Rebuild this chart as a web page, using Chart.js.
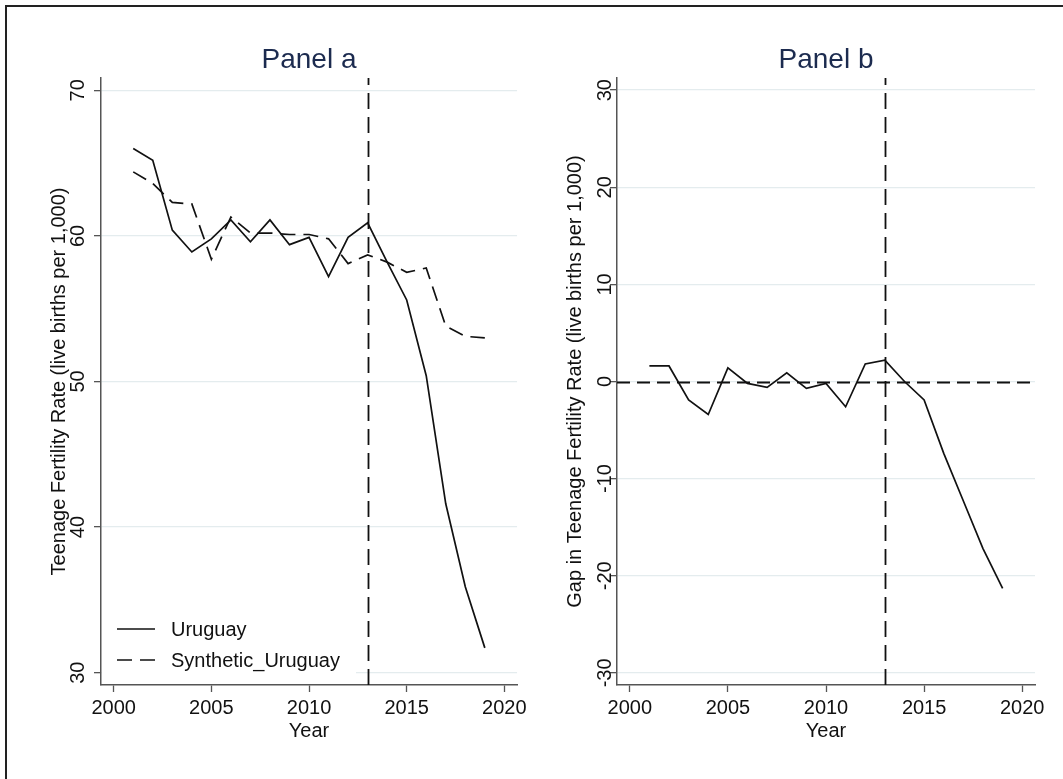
<!DOCTYPE html>
<html>
<head>
<meta charset="utf-8">
<script src="https://cdn.jsdelivr.net/npm/chart.js@4.4.1/dist/chart.umd.min.js"></script>
<style>
  html, body { margin: 0; padding: 0; background: #fff; overflow: hidden; }
  #page { position: relative; width: 1063px; height: 779px; overflow: hidden; }
  #frame { position: absolute; left: 5px; top: 5px; width: 1080px; height: 800px;
           border-left: 2px solid #222; border-top: 2px solid #222; }
  #wrapA { position: absolute; left: 0; top: 0; width: 531px; height: 779px; }
  #wrapB { position: absolute; left: 531px; top: 0; width: 532px; height: 779px; }
  canvas { display: block; }
</style>
</head>
<body>
<div id="page">
  <div id="frame"></div>
  <div id="wrapA"><canvas id="chartA" width="531" height="779"></canvas></div>
  <div id="wrapB"><canvas id="chartB" width="532" height="779"></canvas></div>
</div>
<script>
// Teenage fertility rate, Uruguay vs. synthetic control (live births per 1,000)
const years = [2001, 2002, 2003, 2004, 2005, 2006, 2007, 2008, 2009, 2010,
               2011, 2012, 2013, 2014, 2015, 2016, 2017, 2018, 2019];
const uruguay = [66.0, 65.2, 60.4, 58.9, 59.8, 61.1, 59.6, 61.1, 59.4, 59.9,
                 57.2, 59.9, 60.9, 58.2, 55.6, 50.4, 41.6, 35.9, 31.7];
const syntheticUruguay = [64.4, 63.6, 62.3, 62.2, 58.4, 61.3, 60.2, 60.2, 60.1, 60.1,
                          59.8, 58.1, 58.7, 58.2, 57.5, 57.8, 53.8, 53.1, 53.0];
// Gap between Uruguay and its synthetic control
const gapValues = [1.6, 1.6, -1.9, -3.4, 1.4, -0.2, -0.6, 0.9, -0.7, -0.2,
                   -2.6, 1.8, 2.2, 0.0, -1.9, -7.4, -12.3, -17.2, -21.3];

const xTicks = [2000, 2005, 2010, 2015, 2020];
const yTicksA = [30, 40, 50, 60, 70];
const yTicksB = [-30, -20, -10, 0, 10, 20, 30];
const interventionYear = 2013;
const gapBaseline = 0;

const FONT = '"Liberation Sans", Arial, Helvetica, sans-serif';
const INK = '#111111';
const AXIS = '#555555';
const GRID = '#e4ecee';

const toPoints = (vals) => years.map((yr, i) => ({ x: yr, y: vals[i] }));

// Panel title above the plot area
const panelTitle = {
  id: 'panelTitle',
  afterDraw(chart, args, opts) {
    const { ctx, chartArea } = chart;
    ctx.save();
    ctx.font = '28px ' + FONT;
    ctx.fillStyle = '#1c2b4f';
    ctx.textAlign = 'center';
    ctx.textBaseline = 'alphabetic';
    ctx.fillText(opts.text, (chartArea.left + chartArea.right) / 2, 68);
    ctx.restore();
  }
};

// Y tick labels written vertically, as in Stata graphs
const verticalYTicks = {
  id: 'verticalYTicks',
  afterDraw(chart, args, opts) {
    const { ctx } = chart;
    const y = chart.scales.y;
    ctx.save();
    ctx.font = '20px ' + FONT;
    ctx.fillStyle = INK;
    ctx.textAlign = 'center';
    ctx.textBaseline = 'middle';
    y.ticks.forEach(t => {
      const py = y.getPixelForValue(t.value);
      ctx.save();
      ctx.translate(y.right - opts.offset, py);
      ctx.rotate(-Math.PI / 2);
      ctx.fillText(String(t.value), 0, 0);
      ctx.restore();
    });
    ctx.restore();
  }
};

// Dashed reference lines: intervention year and (optionally) zero gap
const referenceLines = {
  id: 'referenceLines',
  afterDatasetsDraw(chart, args, opts) {
    const { ctx, chartArea: { top, bottom, left, right }, scales: { x, y } } = chart;
    ctx.save();
    ctx.strokeStyle = INK;
    ctx.lineWidth = 1.8;
    if (opts.xValue !== undefined) {
      const px = Math.round(x.getPixelForValue(opts.xValue)) + 0.5;
      ctx.setLineDash([16, 8]);
      ctx.beginPath();
      ctx.moveTo(px, bottom);
      ctx.lineTo(px, top);
      ctx.stroke();
    }
    if (opts.yValue !== undefined) {
      const py = Math.round(y.getPixelForValue(opts.yValue)) + 0.5;
      ctx.setLineDash([13, 7]);
      ctx.beginPath();
      ctx.moveTo(left, py);
      ctx.lineTo(right, py);
      ctx.stroke();
    }
    ctx.restore();
  }
};

// Legend placed inside the plot area, lower left, on a white box
const insideLegend = {
  id: 'insideLegend',
  beforeDatasetsDraw(chart, args, opts) {
    if (!opts.display) return;
    const { ctx, chartArea } = chart;
    ctx.save();
    ctx.fillStyle = '#ffffff';
    ctx.fillRect(chartArea.left + 1, chartArea.bottom - 86, 254, 85);
    ctx.restore();
  },
  afterDatasetsDraw(chart, args, opts) {
    if (!opts.display) return;
    const { ctx, chartArea } = chart;
    ctx.save();
    ctx.font = '20px ' + FONT;
    ctx.textAlign = 'left';
    ctx.textBaseline = 'middle';
    chart.data.datasets.forEach((ds, i) => {
      const rowY = chartArea.bottom - 56 + i * 31;
      const x0 = chartArea.left + 16;
      ctx.strokeStyle = ds.borderColor;
      ctx.lineWidth = ds.borderWidth;
      ctx.setLineDash(ds.borderDash || []);
      ctx.beginPath();
      ctx.moveTo(x0, rowY);
      ctx.lineTo(x0 + 38, rowY);
      ctx.stroke();
      ctx.fillStyle = INK;
      ctx.fillText(ds.label, x0 + 54, rowY + 1);
    });
    ctx.restore();
  }
};

function xScale() {
  return {
    type: 'linear',
    min: 1999.35,
    max: 2020.65,
    afterBuildTicks: s => { s.ticks = xTicks.map(v => ({ value: v })); },
    afterFit: s => { s.height = 64; },
    ticks: { color: INK, font: { family: FONT, size: 20 }, padding: 4, maxRotation: 0,
             callback: v => String(v) },
    grid: { drawOnChartArea: false, drawTicks: true, tickLength: 7, tickColor: AXIS, tickWidth: 1.3 },
    border: { color: AXIS, width: 1.5 },
    title: { display: true, text: 'Year', color: INK, font: { family: FONT, size: 20 },
             padding: { top: 0, bottom: 6 } }
  };
}

function yScale(min, max, ticks, title) {
  return {
    type: 'linear',
    min: min,
    max: max,
    afterBuildTicks: s => { s.ticks = ticks.map(v => ({ value: v })); },
    afterFit: s => { s.width = 61; },
    ticks: { display: false },
    grid: { color: GRID, lineWidth: 1.3, drawTicks: true, tickLength: 7, tickColor: AXIS, tickWidth: 1.3 },
    border: { color: AXIS, width: 1.5 },
    title: { display: true, text: title, color: INK, font: { family: FONT, size: 20 },
             padding: { top: 7, bottom: 0 } }
  };
}

const lineStyle = { borderColor: INK, borderWidth: 1.7, pointRadius: 0, fill: false, tension: 0 };

new Chart(document.getElementById('chartA'), {
  type: 'line',
  data: {
    datasets: [
      Object.assign({ label: 'Uruguay', data: toPoints(uruguay) }, lineStyle),
      Object.assign({ label: 'Synthetic_Uruguay', data: toPoints(syntheticUruguay), borderDash: [15, 8] }, lineStyle)
    ]
  },
  options: {
    responsive: false,
    animation: false,
    layout: { padding: { top: 78, left: 40, right: 13, bottom: 30 } },
    scales: {
      x: xScale(),
      y: yScale(29.15, 70.85, yTicksA, 'Teenage Fertility Rate (live births per 1,000)')
    },
    plugins: {
      legend: { display: false },
      tooltip: { enabled: false },
      panelTitle: { text: 'Panel a' },
      verticalYTicks: { offset: 23 },
      referenceLines: { xValue: interventionYear },
      insideLegend: { display: true }
    }
  },
  plugins: [panelTitle, verticalYTicks, referenceLines, insideLegend]
});

new Chart(document.getElementById('chartB'), {
  type: 'line',
  data: {
    datasets: [
      Object.assign({ label: 'Gap', data: toPoints(gapValues) }, lineStyle)
    ]
  },
  options: {
    responsive: false,
    animation: false,
    layout: { padding: { top: 78, left: 25, right: 28, bottom: 30 } },
    scales: {
      x: xScale(),
      y: yScale(-31.25, 31.25, yTicksB, 'Gap in Teenage Fertility Rate (live births per 1,000)')
    },
    plugins: {
      legend: { display: false },
      tooltip: { enabled: false },
      panelTitle: { text: 'Panel b' },
      verticalYTicks: { offset: 12 },
      referenceLines: { xValue: interventionYear, yValue: gapBaseline },
      insideLegend: { display: false }
    }
  },
  plugins: [panelTitle, verticalYTicks, referenceLines, insideLegend]
});
</script>
</body>
</html>
